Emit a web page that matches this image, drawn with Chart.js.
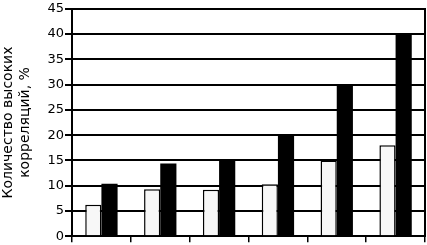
<!DOCTYPE html>
<html lang="ru">
<head>
  <meta charset="UTF-8">
  <title>Количество высоких корреляций</title>
  <script src="https://cdn.jsdelivr.net/npm/chart.js"></script>
  <style>
    body { margin: 0; background: #fff; }
    #wrap { width: 427px; height: 245px; }
  </style>
</head>
<body>
  <div id="wrap"><canvas id="chart"></canvas></div>
  <script>
    // данные
    const categories = ['1', '2', '3', '4', '5', '6'];
    const lightValues = [6.2, 9.3, 9.2, 10.3, 15, 18];
    const darkValues = [10.4, 14.4, 15.1, 20, 30, 40];
    const yTicks = [0, 5, 10, 15, 20, 25, 30, 35, 40, 45];

    const family = 'DejaVu Sans, Arial, sans-serif';

    new Chart(document.getElementById('chart'), {
      type: 'bar',
      data: {
        labels: categories,
        datasets: [
          {
            data: lightValues,
            backgroundColor: '#f7f7f7',
            borderColor: '#000',
            borderWidth: 1.5,
            borderSkipped: 'bottom',
            categoryPercentage: 0.55,
            barPercentage: 1
          },
          {
            data: darkValues,
            backgroundColor: '#000',
            borderColor: '#000',
            borderWidth: 0,
            categoryPercentage: 0.55,
            barPercentage: 1
          }
        ]
      },
      options: {
        responsive: true,
        maintainAspectRatio: false,
        animation: false,
        layout: { padding: { top: -1, right: 2, bottom: 0, left: 0 } },
        plugins: { legend: { display: false }, tooltip: { enabled: false } },
        scales: {
          x: {
            grid: { offset: true, drawOnChartArea: false, color: '#000', lineWidth: 1.5, tickLength: 6 },
            border: { color: '#000', width: 2 },
            ticks: { display: false },
            afterFit: s => { s.height = 8; }
          },
          y: {
            min: 0,
            max: 45,
            afterBuildTicks: s => { s.ticks = yTicks.map(v => ({ value: v })); },
            ticks: { color: '#000', font: { family: family, size: 13 }, padding: 1 },
            grid: { color: '#000', lineWidth: 2, tickLength: 7 },
            border: { color: '#000', width: 2 },
            title: {
              display: true,
              text: ['Количество высоких', 'корреляций, %'],
              color: '#000',
              font: { family: family, size: 14 },
              padding: { top: 0, bottom: 0 }
            },
            afterFit: s => { s.width = 72; }
          },
          y2: {
            position: 'right',
            min: 0,
            max: 45,
            ticks: { display: false },
            grid: { drawOnChartArea: false, drawTicks: false },
            border: { color: '#000', width: 2 },
            afterFit: s => { s.width = 0; }
          }
        }
      }
    });
  </script>
</body>
</html>
